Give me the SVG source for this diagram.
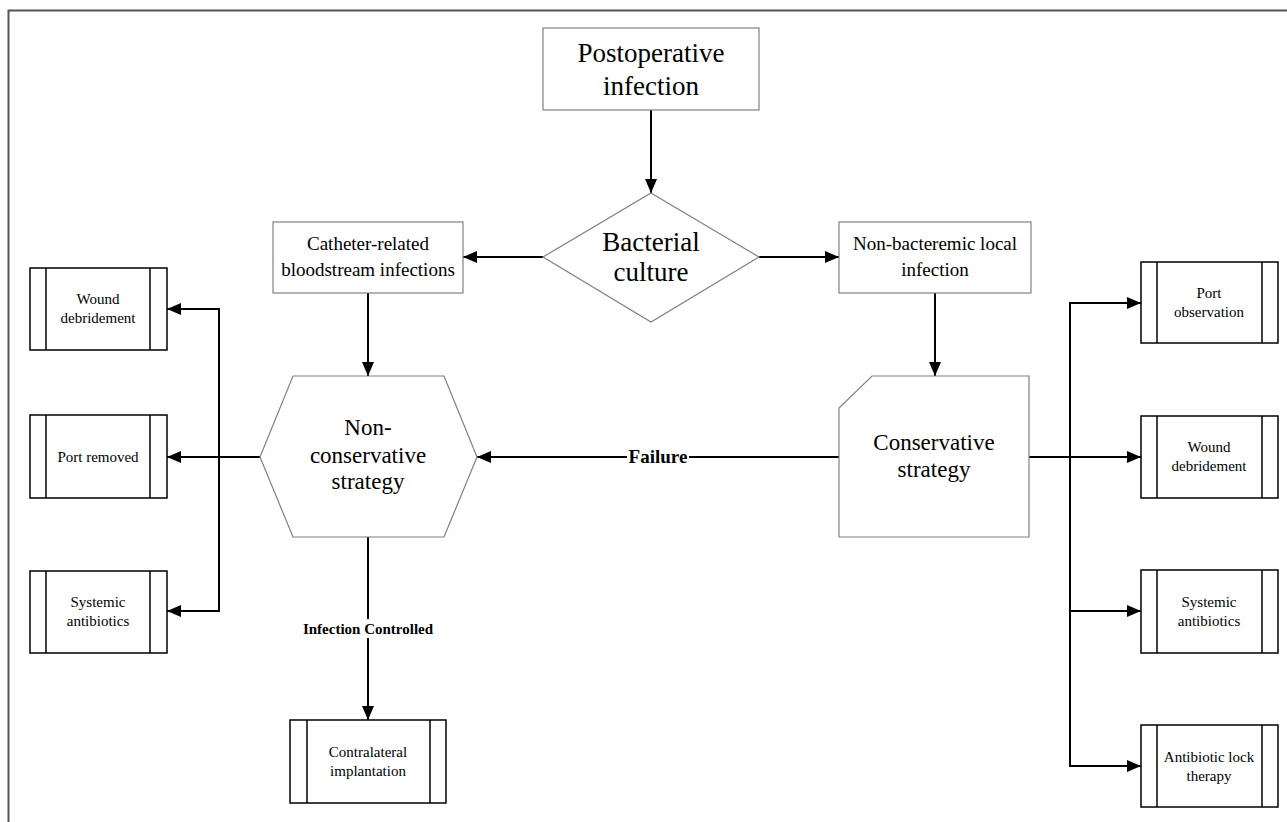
<svg xmlns="http://www.w3.org/2000/svg" width="1287" height="822" viewBox="0 0 1287 822">
<defs>
<marker id="ah" viewBox="0 0 14 12" refX="14" refY="6" markerWidth="14" markerHeight="12" markerUnits="userSpaceOnUse" orient="auto">
<path d="M0,0 L14,6 L0,12 Z" fill="#000"/>
</marker>
<style>
.n{fill:#fff;stroke:#808080;stroke-width:1.2}
.b{fill:#fff;stroke:#000;stroke-width:1.5}
.c{fill:none;stroke:#000;stroke-width:2}
.a{marker-end:url(#ah)}
text{font-family:"Liberation Serif","Times New Roman",serif;fill:#000;text-anchor:middle}
.t27{font-size:27px}
.t23{font-size:23px}
.t19{font-size:19px}
.t15{font-size:15px}
.lb{font-weight:bold}
</style>
</defs>
<rect x="0" y="0" width="1287" height="822" fill="#fff"/>
<rect x="8.5" y="10.5" width="1300" height="830" fill="none" stroke="#555" stroke-width="2"/>

<g id="connectors">
<line class="c a" x1="651" y1="110" x2="651" y2="193"/>
<line class="c a" x1="543" y1="257" x2="463" y2="257"/>
<line class="c a" x1="759" y1="257" x2="839" y2="257"/>
<line class="c a" x1="368" y1="293" x2="368" y2="376"/>
<line class="c a" x1="935" y1="293" x2="935" y2="376"/>
<line class="c a" x1="839" y1="457" x2="477" y2="457"/>
<line class="c a" x1="368" y1="537" x2="368" y2="720"/>
<line class="c a" x1="260" y1="457" x2="167" y2="457"/>
<polyline class="c a" points="219,457 219,309 167,309"/>
<polyline class="c a" points="219,457 219,611 167,611"/>
<line class="c a" x1="1029" y1="457" x2="1141" y2="457"/>
<polyline class="c a" points="1070,457 1070,303 1141,303"/>
<polyline class="c a" points="1070,457 1070,766 1141,766"/>
<line class="c a" x1="1070" y1="611" x2="1141" y2="611"/>
<rect x="627" y="444" width="62" height="26" fill="#fff"/>
<text class="t19 lb" x="658" y="463">Failure</text>
<rect x="298" y="619" width="142" height="19" fill="#fff"/>
<text class="t15 lb" x="368" y="634">Infection Controlled</text>
</g>

<g id="postoperative">
<rect class="n" x="543" y="28" width="216" height="82"/>
<text class="t27" x="651" y="62">Postoperative</text>
<text class="t27" x="651" y="95">infection</text>
</g>

<g id="bacterial">
<polygon class="n" points="651,193 759,257 651,322 543,257"/>
<text class="t27" x="651" y="251">Bacterial</text>
<text class="t27" x="651" y="281">culture</text>
</g>

<g id="catheter">
<rect class="n" x="273" y="222" width="190" height="71"/>
<text class="t19" x="368" y="250">Catheter-related</text>
<text class="t19" x="368" y="276">bloodstream infections</text>
</g>

<g id="nonbacteremic">
<rect class="n" x="839" y="222" width="192" height="71"/>
<text class="t19" x="935" y="250">Non-bacteremic local</text>
<text class="t19" x="935" y="276">infection</text>
</g>

<g id="nonconservative">
<polygon class="n" points="293,376 444,376 477,457 444,537 293,537 260,457"/>
<text class="t23" x="368" y="435">Non-</text>
<text class="t23" x="368" y="463">conservative</text>
<text class="t23" x="368" y="489">strategy</text>
</g>

<g id="conservative">
<polygon class="n" points="872,376 1029,376 1029,537 839,537 839,408"/>
<text class="t23" x="934" y="450">Conservative</text>
<text class="t23" x="934" y="477">strategy</text>
</g>

<g id="l-wound">
<rect class="b" x="30" y="268" width="137" height="82"/>
<line class="b" x1="46" y1="268" x2="46" y2="350"/>
<line class="b" x1="150" y1="268" x2="150" y2="350"/>
<text class="t15" x="98" y="304">Wound</text>
<text class="t15" x="98" y="323">debridement</text>
</g>

<g id="l-port">
<rect class="b" x="30" y="415" width="137" height="83"/>
<line class="b" x1="46" y1="415" x2="46" y2="498"/>
<line class="b" x1="150" y1="415" x2="150" y2="498"/>
<text class="t15" x="98" y="462">Port removed</text>
</g>

<g id="l-systemic">
<rect class="b" x="30" y="571" width="137" height="82"/>
<line class="b" x1="46" y1="571" x2="46" y2="653"/>
<line class="b" x1="150" y1="571" x2="150" y2="653"/>
<text class="t15" x="98" y="607">Systemic</text>
<text class="t15" x="98" y="626">antibiotics</text>
</g>

<g id="contralateral">
<rect class="b" x="290" y="720" width="156" height="83"/>
<line class="b" x1="307" y1="720" x2="307" y2="803"/>
<line class="b" x1="430" y1="720" x2="430" y2="803"/>
<text class="t15" x="368" y="757">Contralateral</text>
<text class="t15" x="368" y="776">implantation</text>
</g>

<g id="r-port">
<rect class="b" x="1141" y="262" width="137" height="81"/>
<line class="b" x1="1157" y1="262" x2="1157" y2="343"/>
<line class="b" x1="1262" y1="262" x2="1262" y2="343"/>
<text class="t15" x="1209" y="298">Port</text>
<text class="t15" x="1209" y="317">observation</text>
</g>

<g id="r-wound">
<rect class="b" x="1141" y="416" width="137" height="82"/>
<line class="b" x1="1157" y1="416" x2="1157" y2="498"/>
<line class="b" x1="1262" y1="416" x2="1262" y2="498"/>
<text class="t15" x="1209" y="452">Wound</text>
<text class="t15" x="1209" y="471">debridement</text>
</g>

<g id="r-systemic">
<rect class="b" x="1141" y="570" width="137" height="83"/>
<line class="b" x1="1157" y1="570" x2="1157" y2="653"/>
<line class="b" x1="1262" y1="570" x2="1262" y2="653"/>
<text class="t15" x="1209" y="607">Systemic</text>
<text class="t15" x="1209" y="626">antibiotics</text>
</g>

<g id="r-lock">
<rect class="b" x="1141" y="725" width="137" height="82"/>
<line class="b" x1="1157" y1="725" x2="1157" y2="807"/>
<line class="b" x1="1262" y1="725" x2="1262" y2="807"/>
<text class="t15" x="1209" y="762">Antibiotic lock</text>
<text class="t15" x="1209" y="781">therapy</text>
</g>
</svg>
